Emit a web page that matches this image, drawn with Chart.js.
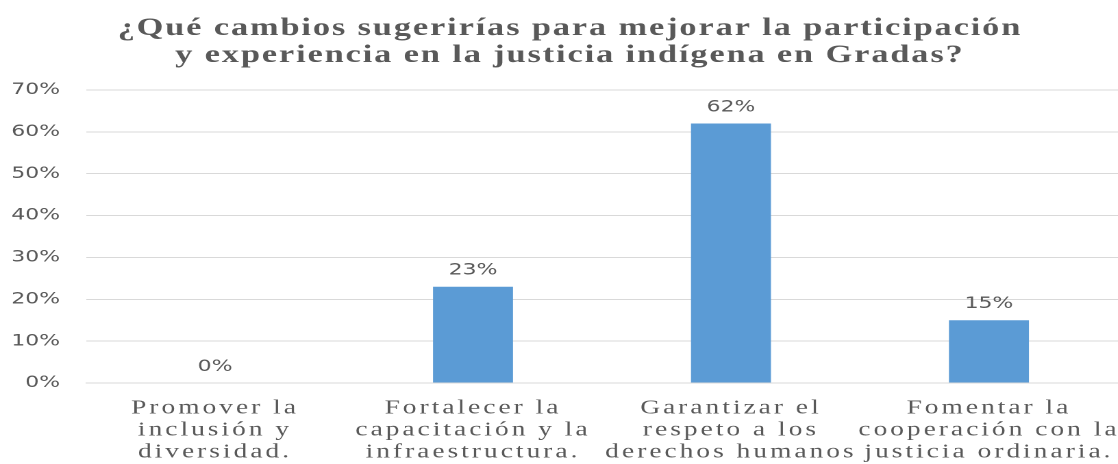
<!DOCTYPE html>
<html>
<head>
<meta charset="utf-8">
<script src="https://cdn.jsdelivr.net/npm/chart.js@4/dist/chart.umd.min.js"></script>
<style>
  html, body { margin: 0; padding: 0; background: #fff; overflow: hidden; }
  #marco { width: 816px; height: 464px; transform: scaleX(1.37); transform-origin: 0 0; }
</style>
</head>
<body>
<div id="marco"><canvas id="grafico" width="816" height="464"></canvas></div>
<script>
const titulo = ["¿Qué cambios sugerirías para mejorar la participación", "y experiencia en la justicia indígena en Gradas?"];
const categorias = [
    ["Promover la", "inclusión y", "diversidad."],
    ["Fortalecer la", "capacitación y la", "infraestructura."],
    ["Garantizar el", "respeto a los", "derechos humanos"],
    ["Fomentar la", "cooperación con la", "justicia ordinaria."]
];
const porcentajes = [0, 23, 62, 15];
const ejeMin = 0;
const ejeMax = 70;
const ejePaso = 10;

const gris = "#595959";

// dibuja una parte del grafico con otro espaciado de letras
function conEspaciado(obj, metodo, valor) {
    if (obj["_esp_" + metodo]) return;
    obj["_esp_" + metodo] = true;
    const original = obj[metodo];
    obj[metodo] = function (...args) {
        const c = this.ctx;
        const antes = c.letterSpacing;
        c.letterSpacing = valor;
        original.apply(this, args);
        c.letterSpacing = antes;
    };
}

const etiquetasBarras = {
    id: "etiquetasBarras",
    beforeDraw(chart) {
        chart.ctx.letterSpacing = "2.2px";   // categorias del eje x
    },
    afterLayout(chart) {
        const t = chart.titleBlock;
        if (t) {
            t.left += 16;
            conEspaciado(t, "draw", "1.4px");
        }
    },
    afterDatasetsDraw(chart) {
        const ctx = chart.ctx;
        const meta = chart.getDatasetMeta(0);
        ctx.save();
        ctx.letterSpacing = "0px";
        ctx.font = "16px 'DejaVu Sans'";
        ctx.fillStyle = gris;
        ctx.textAlign = "center";
        ctx.textBaseline = "alphabetic";
        meta.data.forEach((barra, i) => {
            ctx.fillText(porcentajes[i] + "%", barra.x, barra.y - 12);
        });
        ctx.restore();
    },
    afterDraw(chart) {
        chart.ctx.letterSpacing = "0px";
    }
};

window.addEventListener("DOMContentLoaded", () => {
    const ctx = document.getElementById("grafico").getContext("2d");
    new Chart(ctx, {
        type: "bar",
        data: {
            labels: categorias,
            datasets: [{
                data: porcentajes,
                backgroundColor: "#5B9BD5",
                borderWidth: 0,
                barPercentage: 0.31,
                categoryPercentage: 1
            }]
        },
        options: {
            responsive: false,
            devicePixelRatio: 2,
            animation: false,
            layout: { padding: { left: 0, right: 0, top: 6, bottom: 0 } },
            plugins: {
                legend: { display: false },
                tooltip: { enabled: false },
                title: {
                    display: true,
                    text: titulo,
                    color: gris,
                    font: { family: "'Liberation Serif'", size: 25, weight: "bold", lineHeight: 1.08 },
                    padding: { top: 9, bottom: 21 }
                }
            },
            scales: {
                x: {
                    grid: { display: false, drawTicks: false },
                    border: { display: true, color: "#D9D9D9", width: 1 },
                    ticks: {
                        color: gris,
                        font: { family: "'Liberation Serif'", size: 20, lineHeight: 1.1 },
                        padding: 14,
                        maxRotation: 0,
                        autoSkip: false
                    },
                    afterFit(scale) { scale.height = 81; }
                },
                y: {
                    min: ejeMin,
                    max: ejeMax,
                    grid: { color: "#D9D9D9", drawTicks: false },
                    border: { display: false },
                    ticks: {
                        stepSize: ejePaso,
                        color: gris,
                        font: { family: "'DejaVu Sans'", size: 16 },
                        padding: 19,
                        callback: v => v + "%"
                    },
                    afterFit(scale) {
                        scale.width = 62.8;
                        conEspaciado(scale, "drawLabels", "0px");
                    }
                }
            }
        },
        plugins: [etiquetasBarras]
    });
});
</script>
</body>
</html>
